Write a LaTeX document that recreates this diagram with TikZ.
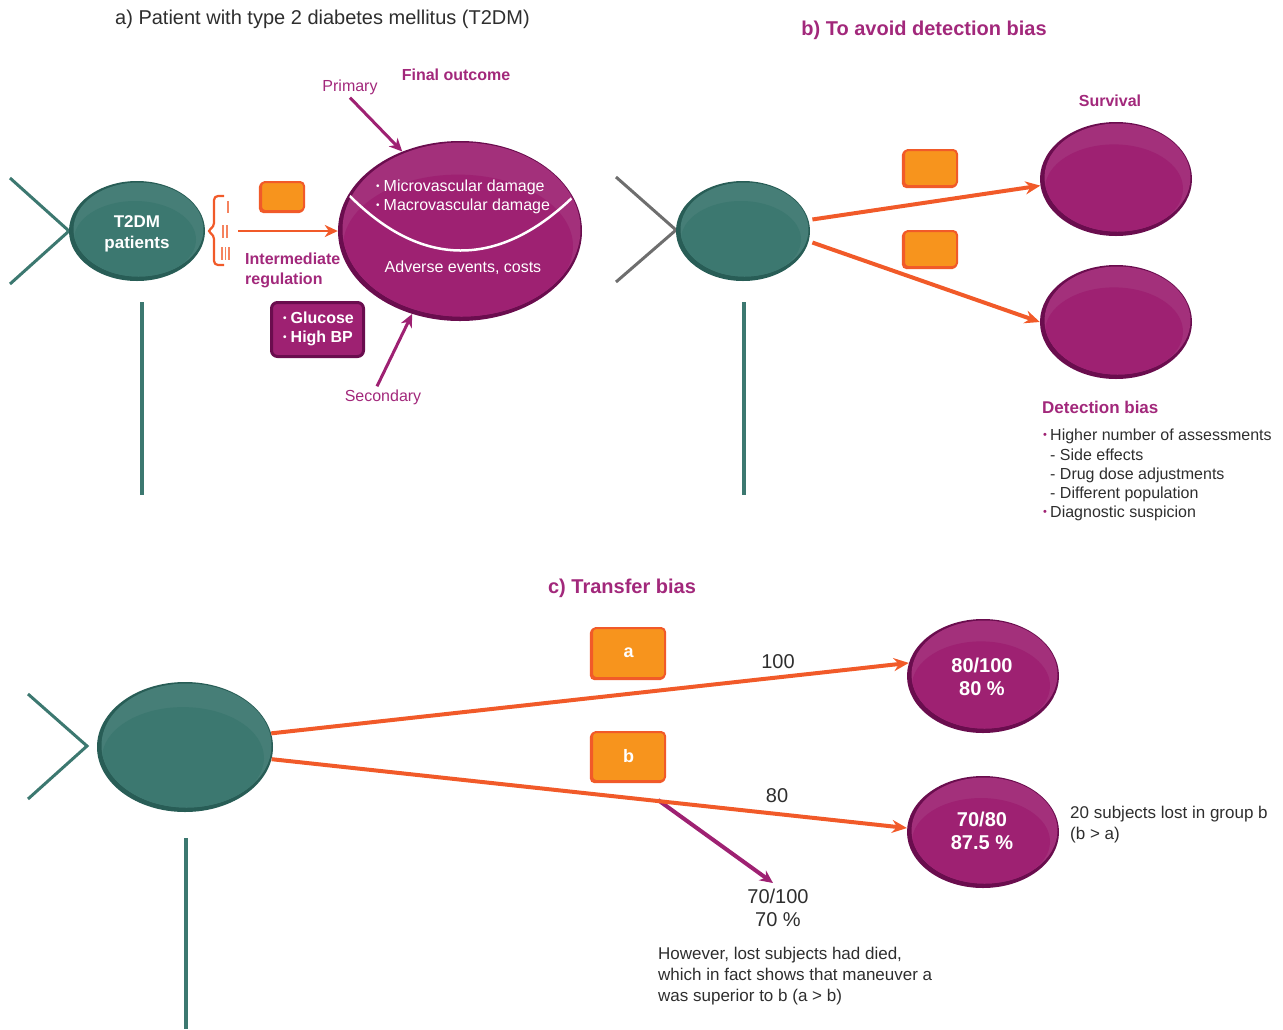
\documentclass[tikz,border=0pt]{standalone}
\usepackage{fontspec}
\setmainfont{Liberation Sans}
\usetikzlibrary{shapes.geometric,arrows.meta}
\definecolor{tealmain}{HTML}{3C7870}
\definecolor{tealdark}{HTML}{285D56}
\definecolor{teallight}{HTML}{467E77}
\definecolor{purpmain}{HTML}{9E2172}
\definecolor{purpdark}{HTML}{6A0D4E}
\definecolor{purplight}{HTML}{A3307B}
\definecolor{purptext}{HTML}{A2287B}
\definecolor{orfill}{HTML}{F7941D}
\definecolor{orline}{HTML}{F15A29}
\definecolor{txtgray}{HTML}{2E2E2E}
\definecolor{chevgray}{HTML}{6E6E6E}
\newcommand\myoval[6]{%
  \node[ellipse, inner sep=0pt, minimum width=2*#4, minimum height=2*#5, fill=#6dark] (#1) at (#2,#3) {};
  \begin{scope}
    \clip (#2+1.5,#3-1.5) ellipse [x radius=#4-3, y radius=#5-3];
    \fill[#6light] (#2-#4,#3-#5) rectangle (#2+#4,#3+#5);
    \fill[#6main] (#2-2,#3+0.17*#5) ellipse [x radius=#4-7, y radius=0.83*#5-3];
  \end{scope}}
\newcommand\sbul{{\fontsize{10}{10}\selectfont\raisebox{2pt}{•}}\hspace{4pt}}
\begin{document}
\begin{tikzpicture}[x=1pt,y=-1pt,
  t16/.style={font=\fontsize{16}{19.3}\selectfont, inner sep=0pt, text=txtgray},
  t17/.style={font=\fontsize{17}{21}\selectfont, inner sep=0pt, text=txtgray},
  t20/.style={font=\fontsize{20}{23}\selectfont, inner sep=0pt, text=txtgray},
  p16/.style={font=\fontsize{16}{19.3}\selectfont, inner sep=0pt, text=purptext},
  pb16/.style={font=\fontsize{16}{19.3}\selectfont\bfseries, inner sep=0pt, text=purptext},
  pb17/.style={font=\fontsize{17}{21}\selectfont\bfseries, inner sep=0pt, text=purptext},
  pb20/.style={font=\fontsize{20}{23}\selectfont\bfseries, inner sep=0pt, text=purptext},
  w16/.style={font=\fontsize{16}{19.3}\selectfont, inner sep=0pt, text=white},
  wb16/.style={font=\fontsize{16}{19.3}\selectfont\bfseries, inner sep=0pt, text=white},
  wb17/.style={font=\fontsize{17}{21}\selectfont\bfseries, inner sep=0pt, text=white},
  wb20/.style={font=\fontsize{20}{23}\selectfont\bfseries, inner sep=0pt, text=white},
  obox/.style={rectangle, rounded corners=4pt, fill=orfill, draw=orline, line width=2pt, inner sep=0pt,
     text=white, font=\fontsize{18}{20}\selectfont\bfseries,
     preaction={draw=orline, line width=2pt, transform canvas={xshift=-1.2pt,yshift=-1.2pt}}},
  oarr/.style={draw=orline, line width=4pt, -{Stealth[length=15pt,width=13pt,inset=5pt]}},
  oarrthin/.style={draw=orline, line width=2.8pt, -{Stealth[length=13pt,width=12pt,inset=4pt]}},
  parr/.style={draw=purpmain, line width=3pt, -{Stealth[length=13pt,width=12pt,inset=4pt]}},
  chev/.style={line width=3pt},
  stem/.style={draw=tealmain, line width=4pt},
]
\useasboundingbox (0,0) rectangle (1283,1029);

% ---------------- a) ----------------
\node[t20, anchor=west] (ta) at (115,19) {a) Patient with type 2 diabetes mellitus (T2DM)};
\draw[chev, draw=tealmain] (10,178) -- (69,231) -- (10,284);
\myoval{A1}{137}{231}{68}{50}{teal}
\node[wb17, align=center] (A1t) at (137,234) {T2DM\\patients};
\draw[stem] (142,302) -- (142,495);

\draw[orline, line width=2.2pt, rounded corners=4pt] (224,196) -- (214,196) -- (214,227) -- (207,231) -- (214,235) -- (214,265) -- (224,265);
\draw[orline!75, line width=1.4pt] (228,201) -- (228,213);
\draw[orline!75, line width=1.4pt] (223,225) -- (223,238) (227,225) -- (227,238);
\draw[orline!75, line width=1.4pt] (222,247) -- (222,260) (225.5,247) -- (225.5,260) (229,247) -- (229,260);

\node[obox, minimum width=43, minimum height=29] (ba) at (282.5,196.5) {};
\coordinate (aS) at (238,231);

\myoval{A2}{460}{231}{122}{90}{purp}
\begin{scope}
  \clip (460,231) ellipse [x radius=120, y radius=88];
  \draw[white, line width=2.5pt] (345,191) .. controls (420,270) and (500,270) .. (577,193);
\end{scope}
\draw[oarrthin] (aS) -- (A2.west);
\node[w16, anchor=west, align=left] (A2a) at (376,197) {\sbul Microvascular damage\\\sbul Macrovascular damage};
\node[w16] (A2b) at (463,268) {Adverse events, costs};

\node[pb16] (fo) at (456,75) {Final outcome};
\node[p16] (prim) at (350,87) {Primary};
\node[p16] (sec) at (383,397) {Secondary};
\draw[parr] ([yshift=-3pt]prim.south) -- (A2.126);
\draw[parr] ([xshift=-6pt,yshift=3pt]sec.north) -- (A2.240);

\node[pb16, anchor=west, align=left] (ir) at (245,270.5) {Intermediate\\regulation};
\node[rectangle, rounded corners=6pt, fill=purpmain, draw=purpdark, line width=3pt,
      minimum width=92, minimum height=54, inner sep=0pt] (gl) at (317.5,329.5) {};
\node[wb16, anchor=west, align=left] (glt) at (283,329) {\sbul Glucose\\\sbul High BP};

% ---------------- b) ----------------
\node[pb20] (tb) at (924,30) {b) To avoid detection bias};
\draw[chev, draw=chevgray] (616,177) -- (676,230) -- (616,282);
\myoval{B1}{743}{231}{67}{50}{teal}
\draw[stem] (744,302) -- (744,495);
\myoval{B2}{1116}{179}{76}{57}{purp}
\myoval{B3}{1116}{322}{76}{57}{purp}
\node[pb16] (surv) at (1110,101) {Survival};
\node[obox, minimum width=53, minimum height=36] (bb1) at (930.5,168) {};
\node[obox, minimum width=53, minimum height=36] (bb2) at (930.5,249) {};
\draw[oarr] ([xshift=4pt]B1.10) -- (B2.185);
\draw[oarr] ([xshift=4pt]B1.-10) -- (B3.west);

\node[pb17, anchor=west] (db) at (1042,407) {Detection bias};
\node[text=purpmain, inner sep=0pt, font=\fontsize{11}{11}\selectfont] (d1b) at (1045,436) {•};
\node[t16, anchor=west] (d1) at (1050,436) {Higher number of assessments};
\node[t16, anchor=west] (d2) at (1050,455) {- Side effects};
\node[t16, anchor=west] (d3) at (1050,475) {- Drug dose adjustments};
\node[t16, anchor=west] (d4) at (1050,494) {- Different population};
\node[text=purpmain, inner sep=0pt, font=\fontsize{11}{11}\selectfont] (d5b) at (1045,513) {•};
\node[t16, anchor=west] (d5) at (1050,513) {Diagnostic suspicion};

% ---------------- c) ----------------
\node[pb20] (tc) at (622,588) {c) Transfer bias};
\draw[chev, draw=tealmain] (28,694) -- (87,746) -- (28,799);
\myoval{C1}{185}{747}{88}{65}{teal}
\draw[stem] (186,838) -- (186,1029);
\myoval{C2}{983}{676}{76}{57}{purp}
\myoval{C3}{983}{832}{76}{56}{purp}
\node[wb20, align=center] (C2t) at (982,677) {80/100\\80 \%};
\node[wb20, align=center] (C3t) at (982,831) {70/80\\87.5 \%};
\node[obox, minimum width=73, minimum height=50] (ca) at (628.5,653) {a};
\node[obox, minimum width=73, minimum height=49] (cb) at (628.5,756.5) {b};
\coordinate (pS) at (658,800);
\coordinate (pE) at (773,883);
\draw[parr, line width=4pt] (pS) -- (pE);
\draw[oarr] (C1.9) -- (C2.170);
\draw[oarr] (C1.-8) -- (C3.177);
\node[t20] (n100) at (778,662) {100};
\node[t20] (n80) at (777,796) {80};
\node[t20, align=center] (n70) at (778,908) {70/100\\70 \%};
\node[t17, anchor=west, align=left] (lost) at (1070,824.5) {20 subjects lost in group b\\(b > a)};
\node[t17, anchor=west, align=left] (how) at (658,976) {However, lost subjects had died,\\which in fact shows that maneuver a\\was superior to b (a > b)};
\end{tikzpicture}
\end{document}
